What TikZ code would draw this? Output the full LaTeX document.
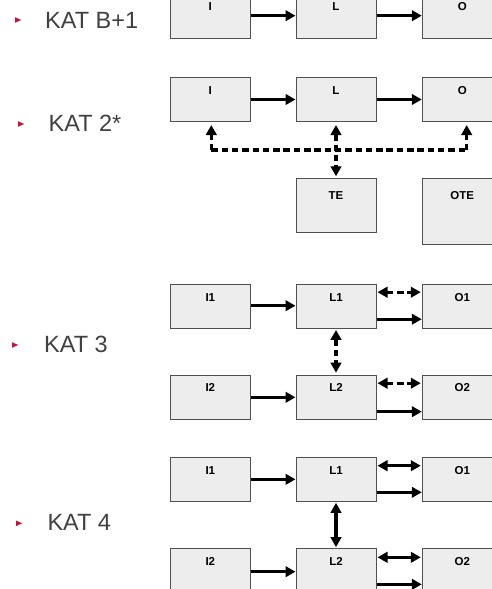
\documentclass[tikz,border=0pt]{standalone}
\usepackage{fontspec}
\setmainfont{Liberation Sans}
\usetikzlibrary{arrows.meta}
\definecolor{boxfill}{HTML}{ECEDEC}
\definecolor{boxline}{HTML}{505050}
\definecolor{katgrey}{HTML}{404040}
\definecolor{bulletred}{HTML}{C8143C}
\tikzset{
  blk/.style={draw=boxline, line width=1pt, fill=boxfill, minimum width=80pt, minimum height=44pt, inner sep=0pt},
  blklbl/.style={font=\fontsize{11.5}{12}\selectfont\bfseries, inner sep=0pt},
  conn/.style={line width=3.3pt, -{Triangle[length=10pt,width=10.5pt]}},
  bconn/.style={line width=3.3pt, {Triangle[length=10pt,width=10.5pt]}-{Triangle[length=10pt,width=10.5pt]}},
  dashln/.style={dash pattern=on 6.5pt off 3.8pt},
  katlbl/.style={font=\fontsize{23.5}{24}\selectfont, text=katgrey, anchor=west, inner sep=0pt},
  bul/.style={fill=bulletred, draw=none}
}
\newcommand{\katbullet}[2]{\fill[bul] (#1-3,#2-2.8) -- (#1+3.2,#2) -- (#1-3,#2+2.8) -- cycle;}
\begin{document}
\begin{tikzpicture}[x=1pt,y=-1pt]
\useasboundingbox (0,0) rectangle (492,589);
\clip (0,0) rectangle (492,589);

% ---------- KAT B+1 ----------
\katbullet{18}{20}
\node[katlbl] (kb) at (45,20) {KAT B+1};
\node[blk, minimum height=44.7pt, label={[blklbl, anchor=center, yshift=-13.4pt]north:I}] (ia) at (210.3,15.7) {};
\node[blk, minimum height=44.7pt, label={[blklbl, anchor=center, yshift=-13.4pt]north:L}] (la) at (336,15.7) {};
\node[blk, minimum height=44.7pt, label={[blklbl, anchor=center, yshift=-13.4pt]north:O}] (oa) at (462.3,15.7) {};
\draw[conn] (ia.east) -- (la.west);
\draw[conn] (la.east) -- (oa.west);

% ---------- KAT 2* ----------
\katbullet{21}{124}
\node[katlbl] (k2) at (48.5,123.3) {KAT 2*};
\node[blk, label={[blklbl, anchor=center, yshift=-13.4pt]north:I}] (ib) at (210.3,99.5) {};
\node[blk, label={[blklbl, anchor=center, yshift=-13.4pt]north:L}] (lb) at (336,99.5) {};
\node[blk, label={[blklbl, anchor=center, yshift=-13.4pt]north:O}] (ob) at (462.3,99.5) {};
\node[blk, minimum height=54pt, label={[blklbl, anchor=center, yshift=-17.7pt]north:TE}] (te) at (336,205.3) {};
\node[blk, minimum height=65.7pt, label={[blklbl, anchor=center, yshift=-17.7pt]north:OTE}] (ote) at (462.3,211.2) {};
\draw[conn] (ib.east) -- (lb.west);
\draw[conn] (lb.east) -- (ob.west);
\coordinate (jl) at (211.3,150);
\coordinate (jr) at (466.7,150);
\draw[line width=3.3pt, dashln] (jl) -- (jr);
\draw[conn, dashln, shorten >=3pt] (jl) -- (jl |- ib.south);
\draw[conn, dashln, shorten >=3pt] (jr) -- (jr |- ob.south);
\draw[bconn, dashln, shorten <=3pt, shorten >=1.5pt] (lb.south) -- (te.north);

% ---------- KAT 3 ----------
\katbullet{15}{345}
\node[katlbl] (k3) at (44,344) {KAT 3};
\node[blk, label={[blklbl, anchor=center, yshift=-13.4pt]north:I1}] (ic) at (210.3,306.2) {};
\node[blk, label={[blklbl, anchor=center, yshift=-13.4pt]north:L1}] (lc) at (336,306.2) {};
\node[blk, label={[blklbl, anchor=center, yshift=-13.4pt]north:O1}] (oc) at (462.3,306.2) {};
\node[blk, label={[blklbl, anchor=center, yshift=-12.5pt]north:I2}] (id) at (210.3,397.2) {};
\node[blk, label={[blklbl, anchor=center, yshift=-12.5pt]north:L2}] (ld) at (336,397.2) {};
\node[blk, label={[blklbl, anchor=center, yshift=-12.5pt]north:O2}] (od) at (462.3,397.2) {};
\draw[conn] ([yshift=0.5pt]ic.east) -- ([yshift=0.5pt]lc.west);
\draw[bconn, dashln, shorten <=1pt, shorten >=1pt] ([yshift=14pt]lc.east) -- ([yshift=14pt]oc.west);
\draw[conn] ([yshift=-13pt]lc.east) -- ([yshift=-13pt]oc.west);
\draw[bconn, dashln, shorten <=1.2pt, shorten >=2pt] (lc.south) -- (ld.north);
\draw[conn] ([yshift=-0.1pt]id.east) -- ([yshift=-0.1pt]ld.west);
\draw[bconn, dashln, shorten <=1pt, shorten >=1pt] ([yshift=14pt]ld.east) -- ([yshift=14pt]od.west);
\draw[conn] ([yshift=-14.5pt]ld.east) -- ([yshift=-14.5pt]od.west);

% ---------- KAT 4 ----------
\katbullet{19}{523.3}
\node[katlbl] (k4) at (47.3,522.3) {KAT 4};
\node[blk, label={[blklbl, anchor=center, yshift=-13.4pt]north:I1}] (ie) at (210.3,479.3) {};
\node[blk, label={[blklbl, anchor=center, yshift=-13.4pt]north:L1}] (le) at (336,479.3) {};
\node[blk, label={[blklbl, anchor=center, yshift=-13.4pt]north:O1}] (oe) at (462.3,479.3) {};
\node[blk, label={[blklbl, anchor=center, yshift=-13pt]north:I2}] (if) at (210.3,570.7) {};
\node[blk, label={[blklbl, anchor=center, yshift=-13pt]north:L2}] (lf) at (336,570.7) {};
\node[blk, label={[blklbl, anchor=center, yshift=-13pt]north:O2}] (of) at (462.3,570.7) {};
\draw[conn] (ie.east) -- (le.west);
\draw[bconn, shorten <=1pt, shorten >=1pt] ([yshift=13.6pt]le.east) -- ([yshift=13.6pt]oe.west);
\draw[conn] ([yshift=-13pt]le.east) -- ([yshift=-13pt]oe.west);
\draw[bconn, shorten <=1pt, shorten >=1pt] (le.south) -- (lf.north);
\draw[conn] ([yshift=-1pt]if.east) -- ([yshift=-1pt]lf.west);
\draw[bconn, shorten <=1pt, shorten >=1pt] ([yshift=13.4pt]lf.east) -- ([yshift=13.4pt]of.west);
\draw[conn] ([yshift=-13.6pt]lf.east) -- ([yshift=-13.6pt]of.west);
\end{tikzpicture}
\end{document}
